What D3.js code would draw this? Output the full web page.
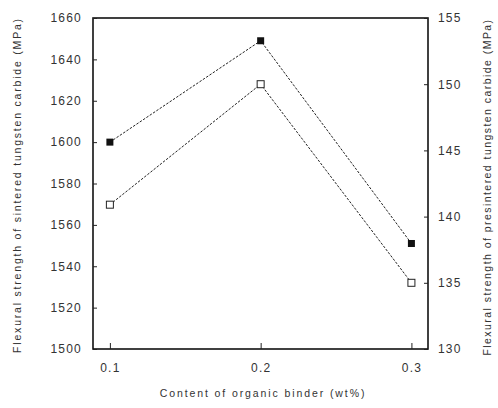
<!DOCTYPE html>
<html lang="en">
<head>
<meta charset="UTF-8">
<title>Flexural strength vs organic binder</title>
<script src="https://d3js.org/d3.v7.min.js"></script>
<style>
  body { margin: 0; background: #fff; }
  text { font-family: "Liberation Sans", Arial, sans-serif; fill: #333; }
</style>
</head>
<body>
<script>
// binder content (wt%)
const binder = [0.1, 0.2, 0.3]
// sintered (left axis, MPa) - filled squares
const sintered = [1600, 1649, 1551]
// presintered (right axis, MPa) - open squares
const presintered = [140.9, 150, 135]

const leftTicks = [1500, 1520, 1540, 1560, 1580, 1600, 1620, 1640, 1660]
const rightTicks = [130, 135, 140, 145, 150, 155]
const xTicks = [0.1, 0.2, 0.3]

const width = 498
const height = 408
const plot = { left: 93, right: 428, top: 18, bottom: 349 }

const svg = d3.select('body')
  .append('svg')
  .attr('width', width)
  .attr('height', height)

const x = d3.scaleLinear().domain([0.0888, 0.311]).range([plot.left, plot.right])
const yL = d3.scaleLinear().domain([1500, 1660]).range([plot.bottom, plot.top])
const yR = d3.scaleLinear().domain([130, 155]).range([plot.bottom, plot.top])

// frame
svg.append('rect')
  .attr('x', plot.left)
  .attr('y', plot.top)
  .attr('width', plot.right - plot.left)
  .attr('height', plot.bottom - plot.top)
  .attr('fill', 'none')
  .attr('stroke', '#111')
  .attr('stroke-width', 1.6)

const leftAxis = svg.append('g')
  .attr('transform', `translate(${plot.left},0)`)
  .call(d3.axisLeft(yL).tickValues(leftTicks).tickSize(-4).tickPadding(11).tickFormat(d3.format('d')))
const rightAxis = svg.append('g')
  .attr('transform', `translate(${plot.right},0)`)
  .call(d3.axisRight(yR).tickValues(rightTicks).tickSize(-4).tickPadding(10).tickFormat(d3.format('d')))
const bottomAxis = svg.append('g')
  .attr('transform', `translate(0,${plot.bottom})`)
  .call(d3.axisBottom(x).tickValues(xTicks).tickSize(-6).tickPadding(14).tickFormat(d3.format('.1f')))

for (let ax of [leftAxis, rightAxis, bottomAxis]) {
  ax.select('.domain').remove()
  ax.selectAll('.tick line').attr('stroke', '#222')
  ax.selectAll('.tick text')
    .attr('font-size', 12)
    .attr('letter-spacing', 1.2)
    .attr('fill', '#333')
}

// lines
const lineL = d3.line().x((d, i) => x(binder[i])).y(d => yL(d))
const lineR = d3.line().x((d, i) => x(binder[i])).y(d => yR(d))

svg.append('path')
  .attr('d', lineL(sintered))
  .attr('fill', 'none')
  .attr('stroke', '#222')
  .attr('stroke-width', 1)
  .attr('stroke-dasharray', '2.5,1.5')

svg.append('path')
  .attr('d', lineR(presintered))
  .attr('fill', 'none')
  .attr('stroke', '#222')
  .attr('stroke-width', 1)
  .attr('stroke-dasharray', '2.5,1.5')

const s = 7
svg.selectAll('.filled')
  .data(sintered)
  .enter()
  .append('rect')
  .attr('x', (d, i) => x(binder[i]) - s / 2)
  .attr('y', d => yL(d) - s / 2)
  .attr('width', s)
  .attr('height', s)
  .attr('fill', '#111')

svg.selectAll('.open')
  .data(presintered)
  .enter()
  .append('rect')
  .attr('x', (d, i) => x(binder[i]) - s / 2)
  .attr('y', d => yR(d) - s / 2)
  .attr('width', s)
  .attr('height', s)
  .attr('fill', '#fff')
  .attr('stroke', '#222')
  .attr('stroke-width', 1)

// axis titles
svg.append('text')
  .text('Content of organic binder (wt%)')
  .attr('x', 263)
  .attr('y', 397)
  .attr('text-anchor', 'middle')
  .attr('font-size', 10.5)
  .attr('letter-spacing', 1.9)

svg.append('text')
  .text('Flexural strength of sintered tungsten carbide (MPa)')
  .attr('transform', `translate(21, 185) rotate(-90)`)
  .attr('text-anchor', 'middle')
  .attr('font-size', 10.5)
  .attr('letter-spacing', 1.8)

svg.append('text')
  .text('Flexural strength of presintered tungsten carbide (MPa)')
  .attr('transform', `translate(491, 187) rotate(-90)`)
  .attr('text-anchor', 'middle')
  .attr('font-size', 10.5)
  .attr('letter-spacing', 1.45)
</script>
</body>
</html>
